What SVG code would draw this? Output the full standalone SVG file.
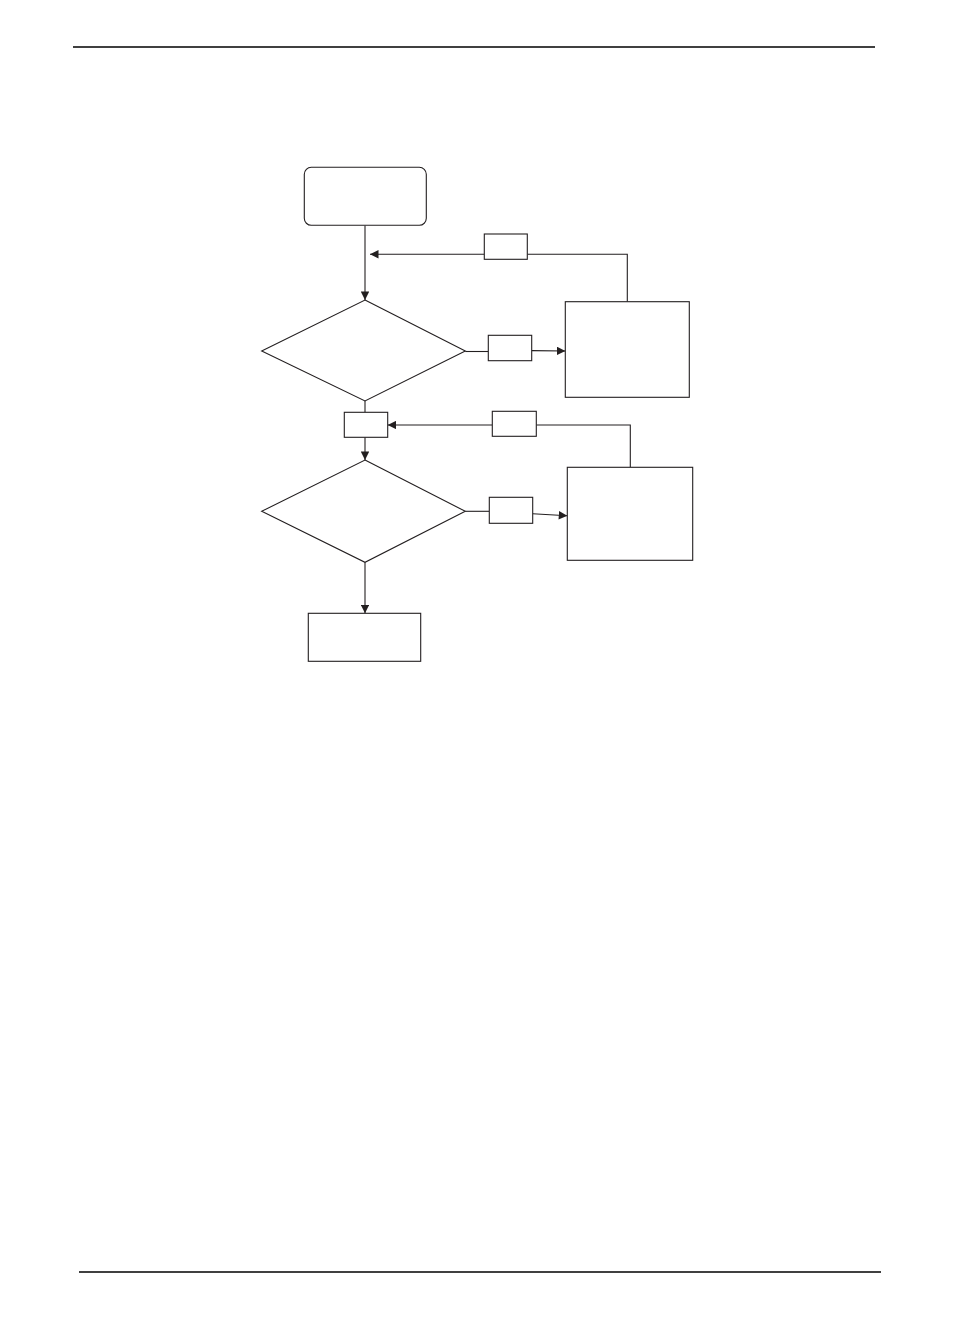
<svg xmlns="http://www.w3.org/2000/svg" width="954" height="1336" viewBox="0 0 954 1336">
<style>
.s{fill:#fff;stroke:#231f20;stroke-width:1.1}
.c{fill:none;stroke:#231f20;stroke-width:1.1}
.r{stroke:#000;stroke-width:1.3}
</style>
<defs>
<marker id="ah" viewBox="0 0 10 10" refX="10" refY="5" markerWidth="9" markerHeight="8.5" markerUnits="userSpaceOnUse" orient="auto">
<path d="M0,0 L10,5 L0,10 Z" fill="#231f20"/>
</marker>
</defs>
<rect width="954" height="1336" fill="#fff"/>
<line class="r" x1="73" y1="47" x2="875" y2="47"/>
<line class="r" x1="79" y1="1272" x2="881" y2="1272"/>
<g id="connectors">
<line class="c" x1="365" y1="225.5" x2="365" y2="300" marker-end="url(#ah)"/>
<polyline class="c" points="627.3,301.7 627.3,254.3 527.3,254.3"/>
<line class="c" x1="484.3" y1="254.3" x2="370" y2="254.3" marker-end="url(#ah)"/>
<line class="c" x1="465.3" y1="351.5" x2="488.3" y2="351.5"/>
<line class="c" x1="531.7" y1="350.6" x2="565.3" y2="351" marker-end="url(#ah)"/>
<line class="c" x1="365" y1="401" x2="365" y2="412.3"/>
<polyline class="c" points="630.3,467.3 630.3,425 536.3,425"/>
<line class="c" x1="492.3" y1="425" x2="387.7" y2="425" marker-end="url(#ah)"/>
<line class="c" x1="365" y1="437.3" x2="365" y2="460" marker-end="url(#ah)"/>
<line class="c" x1="465.3" y1="511.3" x2="489.3" y2="511.3"/>
<line class="c" x1="532.7" y1="513.7" x2="567.3" y2="515.8" marker-end="url(#ah)"/>
<line class="c" x1="365" y1="562.3" x2="365" y2="613.3" marker-end="url(#ah)"/>
</g>
<g id="start"><rect class="s" x="304.3" y="167.3" width="122" height="58" rx="7"/></g>
<g id="label-back1"><rect class="s" x="484.3" y="234" width="43" height="25.3"/></g>
<g id="decision1"><polygon class="s" points="365,300 465.3,351 365,401 261.7,351"/></g>
<g id="label-yes1"><rect class="s" x="488.3" y="335.3" width="43.4" height="25.4"/></g>
<g id="action1"><rect class="s" x="565.3" y="301.7" width="124" height="95.6"/></g>
<g id="label-no1"><rect class="s" x="344.3" y="412.3" width="43.4" height="25"/></g>
<g id="label-back2"><rect class="s" x="492.3" y="411.3" width="44" height="25"/></g>
<g id="decision2"><polygon class="s" points="365,460 465.3,511.3 365,562.3 261.7,511.3"/></g>
<g id="label-yes2"><rect class="s" x="489.3" y="497.3" width="43.4" height="26"/></g>
<g id="action2"><rect class="s" x="567.3" y="467.3" width="125.4" height="93"/></g>
<g id="end"><rect class="s" x="308.3" y="613.3" width="112.4" height="48"/></g>
</svg>
